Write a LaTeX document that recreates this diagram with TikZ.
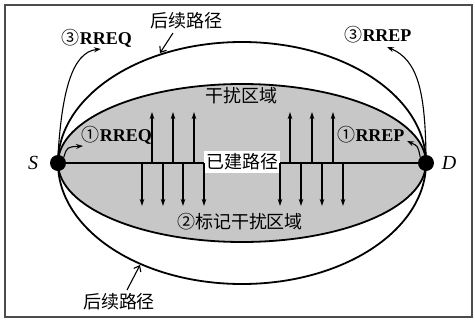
\documentclass[tikz,border=0pt]{standalone}
\usepackage{fontspec}
\setmainfont{Liberation Serif}
\newfontfamily\cjk{Noto Sans CJK SC}
\usetikzlibrary{arrows.meta}
\begin{document}
\begin{tikzpicture}[x=1pt,y=-1pt,
  zh/.style={font=\cjk\fontsize{18}{20}\selectfont, inner sep=1pt},
  lab/.style={font=\fontsize{18}{20}\selectfont, inner sep=1pt},
  ell/.style={line width=1.8pt},
  varr/.style={line width=1.1pt, -{Stealth[length=7pt,width=4.5pt]}},
  carr/.style={line width=1.1pt, -{Stealth[length=7pt,width=5pt]}},
  oarr/.style={line width=1.1pt, -{Straight Barb[length=5pt,width=8pt]}},
  endpt/.style={circle, fill=black, minimum size=16pt, inner sep=0pt},
  msg/.style={font=\fontsize{18}{20}\selectfont\bfseries, inner sep=1pt}]
\useasboundingbox (0,0) rectangle (475,322);
\fill[white] (0,0) rectangle (475,322);
\draw[line width=1.5pt, black!70] (5,5) rectangle (472,317);
% outer path ellipse
\draw[ell] (242,163) ellipse [x radius=184, y radius=121];
% interference region
\draw[ell, fill=black!22] (242,163) ellipse [x radius=184, y radius=79];
% nodes
\node[endpt] (S) at (58,163) {};
\node[endpt] (D) at (426,163) {};
\node[lab, font=\fontsize{20}{22}\selectfont\itshape] (Sl) at (33,163) {S};
\node[lab, font=\fontsize{20}{22}\selectfont\itshape] (Dl) at (449,163) {D};
% established path
\node[zh, fill=white, inner sep=2pt, minimum height=22pt] (path) at (242,162) {已建路径};
\draw[line width=1.1pt] (S) -- (path.west |- S);
\draw[line width=1.1pt] (path.east |- D) -- (D);
% vertical arrows
\foreach \x in {152,173,194,290,312,333}
  \draw[varr] (\x,163) -- (\x,112);
\foreach \x in {142,163,183,204,280,301,322,343}
  \draw[varr] (\x,163) -- (\x,206);
% labels
\node[zh] (top) at (186,21) {后续路径};
\node[zh] (bot) at (119,302) {后续路径};
\node[zh] (zone) at (241,96) {干扰区域};
\node[zh] (mark) at (240,222) {②标记干扰区域};
\node[msg] (rq3) at (97,38) {{\cjk\mdseries ③}RREQ};
\node[msg] (rp3) at (378,35) {{\cjk\mdseries ③}RREP};
\node[msg] (rq1) at (117,135) {{\cjk\mdseries ①}RREQ};
\node[msg] (rp1) at (371,135) {{\cjk\mdseries ①}RREP};
% pointer arrows for later paths
\coordinate (tophit) at (160,53);
\coordinate (bothit) at (140,265);
\draw[oarr] (173,33) -- (tophit);
\draw[oarr] (127,290) -- (bothit);
% message arrows
\draw[carr] (S.north) .. controls (62,92) and (72,52) .. (101,49);
\draw[carr] (D.north) .. controls (425,92) and (418,60) .. (387,47);
\draw[carr] (S.north east) .. controls (67,147) .. (83,146);
\draw[carr] (D.north west) .. controls (418,146) .. (407,141);
\end{tikzpicture}
\end{document}
